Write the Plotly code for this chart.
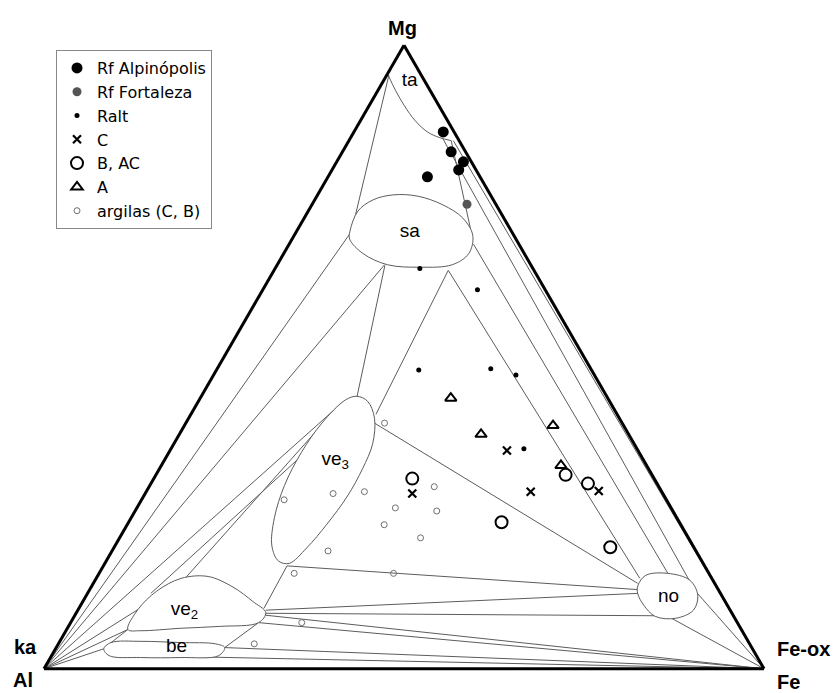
import plotly.graph_objects as go

# ---------------- data (compositions in %, Mg / Al / Fe) ----------------
alp_mg = [86.1, 82.9, 81.3, 80.0, 78.9]
alp_al = [1.5, 2.0, 1.1, 2.4, 7.3]
alp_fe = [12.4, 15.1, 17.6, 17.6, 13.8]

fort_mg = [74.5]
fort_al = [4.0]
fort_fe = [21.5]

ralt_mg = [64.2, 60.8, 47.9, 48.1, 47.1, 35.3]
ralt_al = [15.7, 9.4, 24.0, 13.9, 10.9, 15.7]
ralt_fe = [20.1, 29.8, 28.1, 38.0, 42.0, 49.0]

c_mg = [35.0, 28.4, 28.1, 28.5]
c_al = [18.2, 18.2, 34.8, 8.7]
c_fe = [46.8, 53.4, 37.1, 62.8]

bac_mg = [30.5, 31.1, 29.7, 23.5, 19.5]
bac_al = [33.6, 12.0, 9.6, 24.7, 11.6]
bac_fe = [35.9, 56.9, 60.7, 51.8, 68.9]

a_mg = [43.4, 37.6, 39.0, 32.6]
a_al = [21.8, 20.5, 9.8, 11.9]
a_fe = [34.8, 41.9, 51.2, 55.5]

arg_mg = [39.4, 27.1, 28.1, 28.4, 29.2, 25.8, 25.3, 23.1, 21.0, 18.9, 15.3, 15.3, 7.4, 4.0]
arg_al = [33.0, 53.1, 45.8, 41.3, 31.2, 38.3, 32.8, 41.2, 37.2, 51.1, 57.6, 43.8, 60.5, 68.8]
arg_fe = [27.6, 19.8, 26.1, 30.3, 39.6, 35.9, 41.9, 35.7, 41.8, 30.0, 27.1, 40.9, 32.1, 27.2]

# mineral stability fields (outline vertices, Mg % and Fe %)
sa_mg = [70.2, 73.4, 75.2, 76.0, 75.8, 74.4, 72.3, 69.5, 66.6, 64.8, 64.4, 64.8, 66.6, 68.9]
sa_fe = [7.4, 6.9, 8.1, 10.5, 14.0, 18.2, 22.0, 24.8, 25.7, 24.3, 20.0, 15.3, 11.0, 8.0]
ve3_mg = [43.1, 43.7, 42.9, 40.2, 36.1, 32.1, 27.7, 23.2, 19.4, 16.9, 17.3, 19.7, 24.2, 29.4, 34.7, 39.4]
ve3_fe = [20.3, 21.6, 23.5, 25.8, 27.6, 28.2, 28.3, 27.7, 26.8, 25.6, 23.9, 21.8, 19.9, 18.7, 18.4, 18.9]
ve2_mg = [6.3, 9.5, 12.4, 14.5, 14.8, 13.1, 10.8, 9.0, 7.4, 6.8, 6.5, 6.1]
ve2_fe = [8.5, 8.3, 9.4, 11.8, 15.4, 19.7, 23.6, 26.3, 26.1, 21.1, 15.8, 10.4]
be_mg = [3.2, 4.2, 4.4, 4.2, 4.0, 3.4, 2.1, 1.8, 1.8, 2.1]
be_fe = [6.7, 7.2, 11.3, 16.9, 21.8, 23.4, 23.2, 18.1, 12.5, 8.0]
no_mg = [13.4, 15.0, 15.3, 14.2, 11.8, 9.4, 8.1, 8.4, 10.2, 12.1]
no_fe = [75.8, 76.1, 79.0, 82.6, 84.9, 85.5, 83.7, 80.7, 78.2, 76.4]
ta_mg = [95.2, 92.7, 90.3, 87.9, 86.1, 85.2, 84.7]
ta_fe = [0.2, 2.5, 4.9, 7.6, 10.2, 12.3, 14.2]

# tie lines (start / end, Mg % and Fe %)
tie_mg0 = [0, 0, 0, 0, 0, 0, 95.2, 64.7, 63.9, 42.7, 33.9, 16.5, 7.4, 6.3,
           39.4, 16.5, 9.4, 8.9, 63.9, 68.1, 85.0, 84.7, 84.7,
           12.1, 8.1, 8.6, 7.4, 3.4, 1.9]
tie_fe0 = [0, 0, 0, 0, 0, 0, 0.3, 15.0, 24.2, 20.0, 18.6, 25.5, 26.1, 8.5,
           26.2, 25.5, 26.1, 26.3, 24.2, 25.6, 12.9, 14.5, 14.2,
           84.7, 83.1, 26.4, 26.1, 23.4, 20.8]
tie_mg1 = [69.8, 64.8, 42.9, 9.5, 6.3, 3.2, 70.3, 43.5, 40.8, 14.7, 12.1, 9.7, 3.4, 3.5,
           13.7, 12.7, 12.1, 8.5, 14.5, 15.3, 13.9, 0, 70.5,
           0, 0, 0, 0, 0, 0]
tie_fe1 = [7.6, 14.9, 20.2, 8.3, 8.5, 6.7, 7.6, 21.7, 25.7, 12.4, 8.8, 25.7, 23.4, 6.8,
           75.6, 76.1, 76.6, 81.2, 75.5, 79.0, 82.8, 100, 24.0,
           100, 100, 100, 100, 100, 100]

# field labels
lab_text = ["ta", "sa", "ve<sub>3</sub>", "ve<sub>2</sub>", "be", "no"]
lab_mg = [94.2, 70.0, 33.5, 9.4, 3.4, 11.5]
lab_fe = [3.7, 15.8, 23.7, 14.8, 16.7, 81.0]


def al_of(mg, fe):
    return [None if m is None else round(100 - m - f, 3) for m, f in zip(mg, fe)]


def closed(v):
    return list(v) + [v[0]]


FONT = "Liberation Sans, Arial, Helvetica, sans-serif"
LINE_C = "#5c5c5c"

fig = go.Figure()

# tie lines
tmg, tfe = [], []
for m0, f0, m1, f1 in zip(tie_mg0, tie_fe0, tie_mg1, tie_fe1):
    tmg += [m0, m1, None]
    tfe += [f0, f1, None]
fig.add_trace(go.Scatterternary(
    a=tmg, c=tfe, b=al_of(tmg, tfe), mode="lines",
    line=dict(color=LINE_C, width=1), connectgaps=False,
    showlegend=False, hoverinfo="skip"))

# ta boundary
fig.add_trace(go.Scatterternary(
    a=ta_mg, c=ta_fe, b=al_of(ta_mg, ta_fe), mode="lines",
    line=dict(color=LINE_C, width=1, shape="spline"),
    showlegend=False, hoverinfo="skip"))

# closed fields
for fm, ff in [(sa_mg, sa_fe), (ve3_mg, ve3_fe), (ve2_mg, ve2_fe), (be_mg, be_fe), (no_mg, no_fe)]:
    m, f = closed(fm), closed(ff)
    fig.add_trace(go.Scatterternary(
        a=m, c=f, b=al_of(m, f), mode="lines", fill="toself", fillcolor="white",
        line=dict(color=LINE_C, width=1, shape="spline", smoothing=1),
        showlegend=False, hoverinfo="skip"))

# field labels
fig.add_trace(go.Scatterternary(
    a=lab_mg, c=lab_fe, b=al_of(lab_mg, lab_fe), mode="text", text=lab_text,
    textposition="middle center", textfont=dict(family=FONT, size=19, color="black"),
    showlegend=False, hoverinfo="skip"))

# samples
fig.add_trace(go.Scatterternary(
    a=alp_mg, b=alp_al, c=alp_fe, mode="markers", name="Rf Alpinópolis",
    marker=dict(symbol="circle", size=11, color="black")))
fig.add_trace(go.Scatterternary(
    a=fort_mg, b=fort_al, c=fort_fe, mode="markers", name="Rf Fortaleza",
    marker=dict(symbol="circle", size=9, color="#555555")))
fig.add_trace(go.Scatterternary(
    a=ralt_mg, b=ralt_al, c=ralt_fe, mode="markers", name="Ralt",
    marker=dict(symbol="circle", size=5, color="black")))
fig.add_trace(go.Scatterternary(
    a=c_mg, b=c_al, c=c_fe, mode="markers", name="C",
    marker=dict(symbol="x-thin", size=8, color="black", line=dict(color="black", width=2.2))))
fig.add_trace(go.Scatterternary(
    a=bac_mg, b=bac_al, c=bac_fe, mode="markers", name="B, AC",
    marker=dict(symbol="circle-open", size=12, color="black", line=dict(width=2))))
fig.add_trace(go.Scatterternary(
    a=a_mg, b=a_al, c=a_fe, mode="markers", name="A",
    marker=dict(symbol="triangle-up-open", size=10, color="black", line=dict(width=2))))
fig.add_trace(go.Scatterternary(
    a=arg_mg, b=arg_al, c=arg_fe, mode="markers", name="argilas (C, B)",
    marker=dict(symbol="circle-open", size=6, color="#707070", line=dict(width=1))))

axis_style = dict(showline=True, linecolor="black", linewidth=3, showticklabels=False,
                  ticks="", showgrid=False, title=dict(text=""))

W, H = 839, 693
OFF = 8  # page body margin offset of the rendered figure
fig.update_layout(
    width=W, height=H,
    margin=dict(l=0, r=0, t=0, b=0, pad=0),
    paper_bgcolor="white",
    font=dict(family=FONT, color="black"),
    ternary=dict(
        sum=100,
        bgcolor="white",
        domain=dict(x=[(44 - OFF) / W, (764 - OFF) / W],
                    y=[1 - (357 - OFF) / H - 0.47, 1 - (357 - OFF) / H + 0.47]),
        aaxis=axis_style, baxis=axis_style, caxis=axis_style,
    ),
    legend=dict(
        x=(56 - OFF) / W, y=1 - (50 - OFF) / H, xanchor="left", yanchor="top",
        bgcolor="white", bordercolor="#888888", borderwidth=1,
        font=dict(family="DejaVu Sans, Liberation Sans, sans-serif", size=16, color="black"),
        tracegroupgap=0, itemsizing="trace",
    ),
    showlegend=True,
)

vertex_labels = [
    ("<b>Mg</b>", 402, 28),
    ("<b>ka</b>", 25, 647),
    ("<b>Al</b>", 23, 680),
    ("<b>Fe-ox</b>", 803, 649),
    ("<b>Fe</b>", 788, 682),
]
for txt, px, py in vertex_labels:
    fig.add_annotation(text=txt, x=(px - OFF) / W, y=1 - (py - OFF) / H,
                       xref="paper", yref="paper",
                       xanchor="center", yanchor="middle", showarrow=False,
                       font=dict(family=FONT, size=20, color="black"))

fig.write_html("out.html")
